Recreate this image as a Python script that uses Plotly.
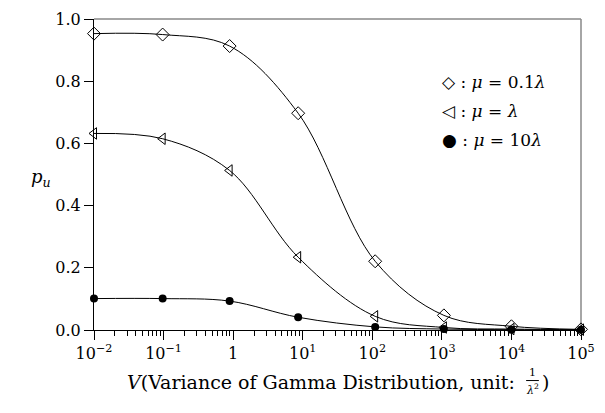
import plotly.graph_objects as go

# Data
v_diamond = [0.01, 0.097, 0.89, 8.6, 110, 1070, 1e4, 1e5]
p_diamond = [0.953, 0.950, 0.913, 0.697, 0.221, 0.047, 0.012, 0.002]

v_tri = [0.01, 0.097, 0.89, 8.6, 110, 1070, 1e4, 1e5]
p_tri = [0.632, 0.615, 0.513, 0.234, 0.044, 0.008, 0.003, 0.001]

v_circ = [0.01, 0.097, 0.89, 8.6, 110, 1070, 1e4, 1e5]
p_circ = [0.101, 0.101, 0.093, 0.041, 0.010, 0.003, 0.001, 0.0005]

x_tickvals = [1e-2, 1e-1, 1, 1e1, 1e2, 1e3, 1e4, 1e5]
x_ticktext = ["10<sup>−2</sup>", "10<sup>−1</sup>", "1", "10<sup>1</sup>",
              "10<sup>2</sup>", "10<sup>3</sup>", "10<sup>4</sup>", "10<sup>5</sup>"]
y_tickvals = [0.0, 0.2, 0.4, 0.6, 0.8, 1.0]
y_ticktext = ["0.0", "0.2", "0.4", "0.6", "0.8", "1.0"]
minor_vals = [m * 10 ** e for e in range(-2, 5) for m in range(2, 10)]

FONT = "DejaVu Serif"

fig = go.Figure()
fig.add_trace(go.Scatter(x=v_diamond, y=p_diamond, mode="lines+markers", cliponaxis=False,
                         line=dict(color="black", width=1, shape="spline"),
                         marker=dict(symbol="diamond-open", size=10, color="black",
                                     line=dict(width=1))))
fig.add_trace(go.Scatter(x=v_tri, y=p_tri, mode="lines+markers", cliponaxis=False,
                         line=dict(color="black", width=1, shape="spline"),
                         marker=dict(symbol="triangle-left-open", size=10, color="black",
                                     line=dict(width=1))))
fig.add_trace(go.Scatter(x=v_circ, y=p_circ, mode="lines+markers", cliponaxis=False,
                         line=dict(color="black", width=1, shape="spline"),
                         marker=dict(symbol="circle", size=8, color="black")))

fig.update_layout(
    width=605, height=413,
    margin=dict(l=94, r=14, t=10, b=83),
    paper_bgcolor="white", plot_bgcolor="white",
    showlegend=False,
    font=dict(family=FONT, size=16, color="black"),
)
fig.update_xaxes(type="log", range=[-2, 5], tickvals=x_tickvals, ticktext=x_ticktext,
                 ticks="outside", ticklen=9, tickwidth=1, tickcolor="black",
                 showline=True, linecolor="black", linewidth=1, showgrid=False,
                 zeroline=False, tickfont=dict(family=FONT, size=16),
                 ticklabeloverflow="allow",
                 minor=dict(tickvals=minor_vals, ticks="outside", ticklen=5,
                            tickcolor="black", showgrid=False))
fig.update_yaxes(range=[0, 1], tickvals=y_tickvals, ticktext=y_ticktext,
                 ticks="outside", ticklen=9, tickwidth=1, tickcolor="black",
                 showline=True, linecolor="black", linewidth=1, showgrid=False,
                 zeroline=False, tickfont=dict(family=FONT, size=16),
                 ticklabeloverflow="allow")

def px(x):
    return (x - 94) / 497.0

def py(y):
    return (330 - y) / 320.0

# gray frame top/right
fig.add_shape(type="line", xref="paper", yref="paper", x0=0, x1=1, y0=1, y1=1,
              line=dict(color="#888888", width=1.5), layer="below")
fig.add_shape(type="line", xref="paper", yref="paper", x0=1, x1=1, y0=0, y1=1,
              line=dict(color="#888888", width=1.5), layer="below")

# legend text
legend_rows = ["◇ : <i>μ</i> = 0.1<i>λ</i>", "◁ : <i>μ</i> = <i>λ</i>", "● : <i>μ</i> = 10<i>λ</i>"]
for txt, yy in zip(legend_rows, [75, 105, 134]):
    fig.add_annotation(text=txt, xref="paper", yref="paper", x=px(447), y=py(yy),
                       xanchor="left", yanchor="middle", showarrow=False,
                       font=dict(family=FONT, size=17))

# y title
fig.add_annotation(text="<i>p<sub>u</sub></i>", xref="paper", yref="paper",
                   x=px(40), y=py(174), xanchor="center", yanchor="middle",
                   showarrow=False, font=dict(family=FONT, size=18))

# x title
fig.add_annotation(text="<i>V</i>(Variance of Gamma Distribution, unit: ",
                   xref="paper", yref="paper", x=px(532), y=py(383),
                   xanchor="right", yanchor="middle", showarrow=False,
                   font=dict(family=FONT, size=19))
fig.add_annotation(text="1", xref="paper", yref="paper", x=px(541), y=py(374),
                   xanchor="center", yanchor="middle", showarrow=False,
                   font=dict(family=FONT, size=11))
fig.add_annotation(text="<i>λ</i><sup>2</sup>", xref="paper", yref="paper", x=px(541), y=py(391),
                   xanchor="center", yanchor="middle", showarrow=False,
                   font=dict(family=FONT, size=11))
fig.add_shape(type="line", xref="paper", yref="paper", x0=px(535), x1=px(548),
              y0=py(382), y1=py(382), line=dict(color="black", width=1))
fig.add_annotation(text=")", xref="paper", yref="paper", x=px(549), y=py(383),
                   xanchor="left", yanchor="middle", showarrow=False,
                   font=dict(family=FONT, size=19))

fig.write_html("out.html")
